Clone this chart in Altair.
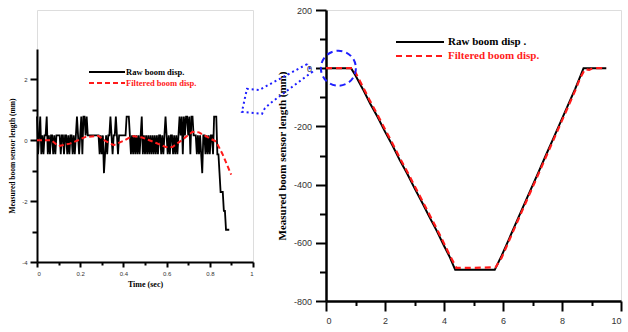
import altair as alt
import pandas as pd

SERIF = "Liberation Serif"
SANS = "Liberation Sans"

# ---------------- data: left panel (0-0.9 s) ----------------
left_dt = 0.005
left_raw = [
    0.78, -0.46, 0.16, 0.78, -0.46, 0.16, -0.46, 0.16, 0.16, 0.78,
    -0.46, 0.16, -0.46, 0.16, 0.16, -0.46, 0.16, -0.46, 0.16, 0.16,
    0.16, 0.16, -0.46, 0.16, 0.16, -0.46, 0.16, 0.16, -0.46, 0.16,
    -0.46, 0.16, 0.16, -0.46, 0.16, -0.46, 0.16, 0.78, 0.16, -0.46,
    0.16, 0.78, -0.46, 0.78, 0.78, 0.16, 0.78, 0.16, 0.16, 0.16,
    0.16, 0.16, 0.16, 0.16, 0.16, 0.16, 0.16, 0.16, -0.46, 0.16,
    -0.46, 0.16, -1.08, -0.46, 0.16, -0.46, 0.16, 0.16, 0.78, 0.16,
    -0.46, 0.16, 0.16, 0.78, 0.16, -0.46, 0.16, 0.16, 0.16, 0.16,
    0.16, 0.16, 0.16, 0.78, 0.78, 0.78, 0.16, -0.46, 0.16, -0.46,
    0.16, -0.46, 0.16, -0.46, 0.16, -0.46, 0.16, 0.78, -0.46, 0.16,
    -0.46, 0.16, -0.46, 0.16, -0.46, 0.16, -0.46, 0.16, -0.46, 0.16,
    -0.46, 0.16, -0.46, 0.16, 0.16, -0.46, 0.16, -0.46, 0.16, 0.78,
    0.16, -0.46, 0.16, -0.46, 0.16, 0.16, -0.46, 0.16, -0.46, 0.16,
    -0.46, 0.16, 0.78, 0.16, 0.78, -0.46, 0.78, 0.16, 0.78, 0.78,
    0.16, 0.78, -0.46, 0.78, 0.78, 0.16, 0.16, 0.16, -0.46, 0.16,
    -0.46, 0.16, -0.46, -1.08, 0.16, 0.16, -0.46, 0.16, -0.46, 0.16,
    -0.46, 0.16, 0.16, -0.46, 0.78, 0.78, 0.78, -0.46, -0.46, -1.08,
    -1.70, -1.70, -1.70, -2.32, -2.32, -2.94, -2.94, -2.94, -2.94,
]
left_filt_t = [0, 0.067, 0.098, 0.152, 0.19, 0.225, 0.285, 0.316, 0.355, 0.40, 0.44,
               0.487, 0.549, 0.596, 0.627, 0.666, 0.72, 0.75, 0.798, 0.829, 0.86, 0.883, 0.899]
left_filt_v = [0, 0, -0.19, -0.11, 0, 0.11, 0.14, -0.02, -0.16, -0.02, 0.14,
               0.09, -0.08, -0.22, -0.22, -0.02, 0.28, 0.26, 0.07, -0.04, -0.47, -0.86, -1.13]

# ---------------- data: right panel (0-10 s) ----------------
raw_t = [0, 0.85, 1.0, 1.25, 1.5, 1.75, 2.0, 2.25, 2.5, 2.75, 3.0, 3.25, 3.5, 3.75, 4.0, 4.2, 4.38,
         5.0, 5.72, 5.95, 6.2, 6.45, 6.7, 6.95, 7.2, 7.45, 7.7, 7.95, 8.2, 8.45, 8.62, 8.73, 9.5]
raw_v = [0, 0, -25, -72, -122, -168, -218, -265, -316, -362, -412, -460, -510, -558, -610, -650, -693,
         -693, -693, -645, -588, -530, -472, -415, -358, -300, -243, -185, -128, -70, -28, 0, 0]
filt_t = [0, 0.9, 1.0, 1.25, 1.5, 1.75, 2.0, 2.25, 2.5, 2.75, 3.0, 3.25, 3.5, 3.75, 4.0, 4.2, 4.42,
          5.0, 5.75, 5.95, 6.2, 6.45, 6.7, 6.95, 7.2, 7.45, 7.7, 7.95, 8.2, 8.45, 8.62, 8.78,
          8.92, 9.05, 9.5]
filt_v = [0, 0, -15, -64, -114, -161, -210, -258, -308, -355, -404, -453, -502, -551, -602, -644, -686,
          -686, -684, -652, -594, -536, -478, -421, -364, -306, -249, -191, -134, -76, -33, -3,
          -6, 0, 0]

# annotation: dashed circle around the start and dotted block arrow (right-panel units)
ring_t = [0.42]
ring_v = [0]
arrow_t = [-0.64, -2.27, -2.68, -2.85, -2.17, -2.07, -1.83, -0.47, -0.64]
arrow_v = [14, -75, -71, -150, -157, -137, -116, -13, 14]

legend_labels = ["Raw boom disp.", "Filtered boom disp."]
right_legend_labels = ["Raw boom disp .", "Filtered boom disp."]
y_title = "Measured boom sensor length (mm)"

# ---------------- left chart ----------------
left_raw_df = pd.DataFrame({"t": [i * left_dt for i in range(len(left_raw))], "v": left_raw})
left_filt_df = pd.DataFrame({"t": left_filt_t, "v": left_filt_v})

lx = alt.X("t:Q", scale=alt.Scale(domain=[0, 1], nice=False, zero=False),
           axis=alt.Axis(values=[round(i * 0.1, 1) for i in range(11)],
                         labelExpr="round(datum.value*10) % 2 == 0 ? '' + datum.value : ''",
                         tickSize=alt.condition("round(datum.value*10) % 2 == 0", alt.value(5), alt.value(3)),
                         tickWidth=2, tickColor="black", domainWidth=2, domainColor="black",
                         labelFont=SANS, labelFontSize=6, labelColor="#333", labelPadding=3,
                         grid=False, title="Time (sec)", titleFont=SERIF, titleFontWeight="bold",
                         titleFontSize=8, titleColor="black", titlePadding=4))
ly = alt.Y("v:Q", scale=alt.Scale(domain=[-4, 3], range=[252, 39], nice=False, zero=False),
           axis=alt.Axis(values=[-4, -3, -2, -1, 0, 1, 2],
                         labelExpr="datum.value % 2 == 0 ? '' + datum.value : ''",
                         tickSize=alt.condition("datum.value % 2 == 0", alt.value(7), alt.value(5)),
                         tickWidth=2, tickColor="black", domainWidth=2, domainColor="black",
                         labelFont=SANS, labelFontSize=6, labelColor="#333", labelPadding=3,
                         grid=False, title=y_title, titleFont=SERIF, titleFontWeight="bold",
                         titleFontSize=7.5, titleColor="black", titlePadding=5))

l_raw = alt.Chart(left_raw_df).mark_line(color="black", strokeWidth=1.8).encode(x=lx, y=ly)
l_filt = alt.Chart(left_filt_df).mark_line(color="#ff1a1a", strokeWidth=2, strokeDash=[5, 3]).encode(x=lx, y=ly)

one = pd.DataFrame({"k": [0]})
l_leg = [
    alt.Chart(one).mark_rule(color="black", strokeWidth=2).encode(x=alt.value(52), x2=alt.value(88), y=alt.value(62)),
    alt.Chart(one).mark_rule(color="#ff1a1a", strokeWidth=2, strokeDash=[5, 3]).encode(x=alt.value(52), x2=alt.value(88), y=alt.value(73)),
    alt.Chart(pd.DataFrame({"label": [legend_labels[0]]})).mark_text(
        align="left", baseline="middle", font=SERIF, fontWeight="bold", fontSize=8.5, color="black"
    ).encode(x=alt.value(89), y=alt.value(62), text="label:N"),
    alt.Chart(pd.DataFrame({"label": [legend_labels[1]]})).mark_text(
        align="left", baseline="middle", font=SERIF, fontWeight="bold", fontSize=8.5, color="#ff1a1a"
    ).encode(x=alt.value(89), y=alt.value(73), text="label:N"),
]

left = alt.layer(l_raw, l_filt, *l_leg).properties(width=216, height=252)

# ---------------- right chart ----------------
raw_df = pd.DataFrame({"t": raw_t, "v": raw_v})
filt_df = pd.DataFrame({"t": filt_t, "v": filt_v})
ring_df = pd.DataFrame({"t": ring_t, "v": ring_v})
arrow_df = pd.DataFrame({"t": arrow_t, "v": arrow_v, "i": list(range(len(arrow_t)))})

rx = alt.X("t:Q", scale=alt.Scale(domain=[0, 10], nice=False, zero=False),
           axis=alt.Axis(values=list(range(11)),
                         labelExpr="datum.value % 2 == 0 ? '' + datum.value : ''",
                         tickSize=alt.condition("datum.value % 2 == 0", alt.value(10), alt.value(4.5)),
                         tickWidth=2, tickColor="black", domainWidth=2.5, domainColor="black",
                         labelFont=SANS, labelFontSize=9, labelColor="#333", labelPadding=5,
                         grid=False, title=None))
ry = alt.Y("v:Q", scale=alt.Scale(domain=[-800, 200], nice=False, zero=False),
           axis=alt.Axis(values=list(range(-800, 201, 100)),
                         labelExpr="datum.value % 200 == 0 ? '' + datum.value : ''",
                         tickSize=alt.condition("datum.value % 200 == 0", alt.value(10.5), alt.value(6.5)),
                         tickWidth=2, tickColor="black", domainWidth=2.5, domainColor="black",
                         labelFont=SANS, labelFontSize=9, labelColor="#333", labelPadding=4,
                         grid=False, title=y_title, titleFont=SERIF, titleFontWeight="bold",
                         titleFontSize=11, titleColor="black", titlePadding=6))

r_raw = alt.Chart(raw_df).mark_line(color="black", strokeWidth=2).encode(x=rx, y=ry)
r_filt = alt.Chart(filt_df).mark_line(color="#ff1a1a", strokeWidth=2.2, strokeDash=[6, 4]).encode(x=rx, y=ry)
r_ring = alt.Chart(ring_df).mark_point(shape="circle", size=1225, filled=False, color="#1f1fff",
                                       strokeWidth=2, strokeDash=[6, 4], opacity=1).encode(x=rx, y=ry)
r_arrow = alt.Chart(arrow_df).mark_line(color="#1f1fff", strokeWidth=2, strokeDash=[2, 3]).encode(
    x=rx, y=ry, order=alt.Order("i:Q"))

r_leg = [
    alt.Chart(one).mark_rule(color="black", strokeWidth=2).encode(x=alt.value(70), x2=alt.value(118), y=alt.value(32)),
    alt.Chart(one).mark_rule(color="#ff1a1a", strokeWidth=2, strokeDash=[6, 4]).encode(x=alt.value(70), x2=alt.value(118), y=alt.value(46)),
    alt.Chart(pd.DataFrame({"label": [right_legend_labels[0]]})).mark_text(
        align="left", baseline="middle", font=SERIF, fontWeight="bold", fontSize=11, color="black"
    ).encode(x=alt.value(122), y=alt.value(32), text="label:N"),
    alt.Chart(pd.DataFrame({"label": [right_legend_labels[1]]})).mark_text(
        align="left", baseline="middle", font=SERIF, fontWeight="bold", fontSize=11, color="#ff1a1a"
    ).encode(x=alt.value(122), y=alt.value(46), text="label:N"),
]

right = alt.layer(r_raw, r_filt, r_ring, r_arrow, *r_leg).properties(width=295, height=291)

chart = (
    alt.hconcat(left, right, spacing=73, bounds="flush")
    .properties(padding={"left": 8, "top": 5, "right": 0, "bottom": 0})
    .configure_view(stroke=None)
    .configure(background="white")
)

chart.save("out.html", embed_options={"renderer": "svg", "actions": False})
